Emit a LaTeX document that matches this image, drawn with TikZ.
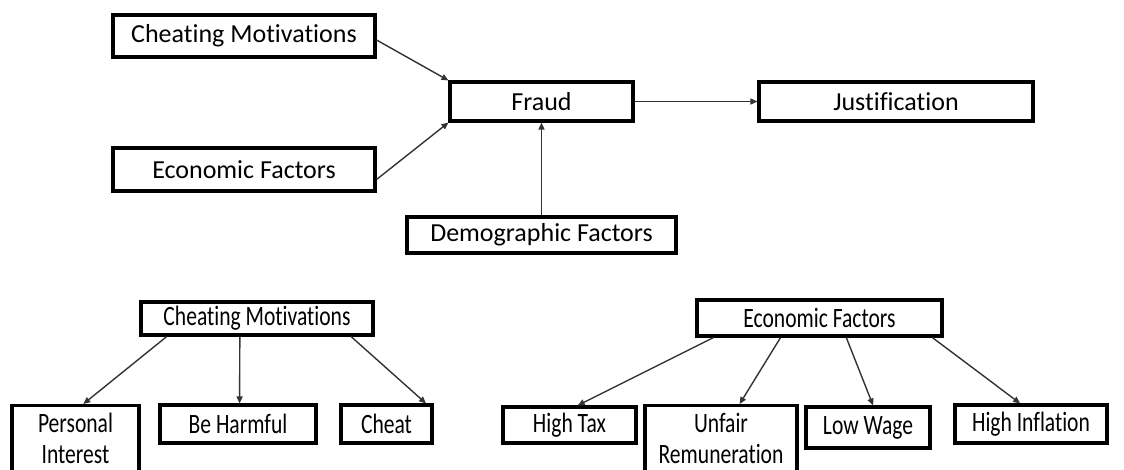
\documentclass[tikz,border=0pt]{standalone}
\usepackage{fontspec}
\setmainfont{Carlito}[Ligatures=NoCommon]
\usetikzlibrary{calc,arrows.meta}
\newcommand{\nb}[1]{\scalebox{0.77}[1]{#1}}
\begin{document}
\begin{tikzpicture}[x=1pt,y=1pt,
  box/.style={draw=black, line width=3.1pt, inner sep=0pt, align=center, fill=white},
  topf/.style={font=\fontsize{26}{30}\selectfont},
  botf/.style={font=\fontsize{28}{31}\selectfont},
  conn/.style={-{Triangle[length=7pt,width=6pt]}, line width=1.4pt, draw=black!80}]
\useasboundingbox (0,0) rectangle (1124,-470);
\clip (0,0) rectangle (1124,-470);
% top
\node[box,topf,minimum width=262,minimum height=42] (cm1) at (244,-36) {Cheating Motivations};
\node[box,topf,minimum width=183,minimum height=39] (fraud) at (541.5,-101.5) {Fraud};
\node[box,topf,minimum width=274,minimum height=39] (just) at (896,-101.5) {Justification};
\node[box,topf,minimum width=262,minimum height=43] (ef1) at (244,-169.5) {Economic Factors};
\node[box,topf,minimum width=269,minimum height=36] (demo) at (541.5,-235) {Demographic Factors};
\draw[conn] ($(cm1.east)+(0,-4)$) -- (fraud.north west);
\draw[conn] ($(ef1.east)+(0,-10)$) -- (fraud.south west);
\draw[conn] (demo.north) -- (fraud.south);
\draw[conn] (fraud.east) -- (just.west);
% bottom left
\node[box,botf,minimum width=232,minimum height=33] (cm2) at (257,-318.5) {\nb{Cheating Motivations}};
\node[box,botf,minimum width=127,minimum height=66,anchor=north] (pi) at (75.5,-404) {\nb{Personal}\\\nb{Interest}};
\node[box,botf,minimum width=156,minimum height=38] (bh) at (238,-424) {\nb{Be Harmful}};
\node[box,botf,minimum width=91,minimum height=38] (cheat) at (386.5,-424) {\nb{Cheat}};
\draw[conn] ($(cm2.south west)!0.116!(cm2.south east)$) -- ($(pi.north west)!0.56!(pi.north east)$);
\draw[conn] ($(cm2.south west)!0.427!(cm2.south east)$) -- ($(bh.north west)!0.51!(bh.north east)$);
\draw[conn] ($(cm2.south west)!0.90!(cm2.south east)$) -- ($(cheat.north west)!0.92!(cheat.north east)$);
% bottom right
\node[box,botf,minimum width=245,minimum height=36] (ef2) at (819.5,-318) {\nb{Economic Factors}};
\node[box,botf,minimum width=133,minimum height=36] (ht) at (569.5,-425) {\nb{High Tax}};
\node[box,botf,minimum width=152,minimum height=66,anchor=north] (ur) at (721,-404) {\nb{Unfair}\\\nb{Remuneration}};
\node[box,botf,minimum width=124,minimum height=41] (lw) at (868,-427.5) {\nb{Low Wage}};
\node[box,botf,minimum width=152,minimum height=38] (hi) at (1031,-424) {\nb{High Inflation}};
\draw[conn] ($(ef2.south west)!0.073!(ef2.south east)$) -- ($(ht.north west)!0.56!(ht.north east)$);
\draw[conn] ($(ef2.south west)!0.343!(ef2.south east)$) -- ($(ur.north west)!0.62!(ur.north east)$);
\draw[conn] ($(ef2.south west)!0.608!(ef2.south east)$) -- ($(lw.north west)!0.54!(lw.north east)$);
\draw[conn] ($(ef2.south west)!0.955!(ef2.south east)$) -- ($(hi.north west)!0.43!(hi.north east)$);
\end{tikzpicture}
\end{document}
